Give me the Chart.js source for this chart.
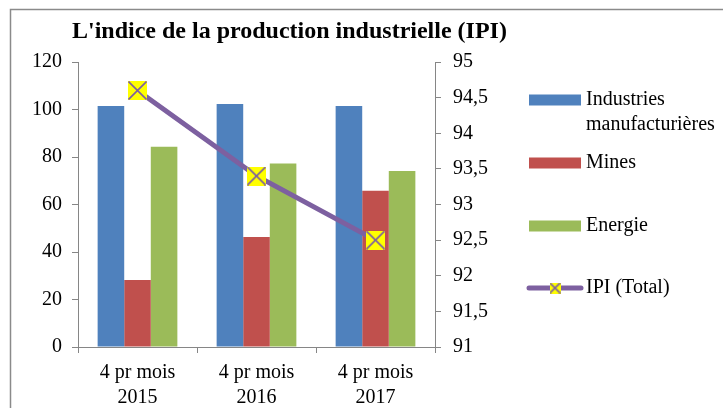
<!DOCTYPE html>
<html>
<head>
<meta charset="utf-8">
<script src="https://cdn.jsdelivr.net/npm/chart.js@4"></script>
<style>
html,body{margin:0;padding:0;background:#fff;}
canvas{display:block;}
</style>
</head>
<body>
<canvas id="c" width="723" height="408"></canvas>
<script>
const categories = [['4 pr mois', '2015'], ['4 pr mois', '2016'], ['4 pr mois', '2017']];
const industries = [101.5, 102.3, 101.5];
const mines = [28.2, 46.3, 65.8];
const energie = [84.3, 77.3, 74.1];
const ipi = [94.6, 93.4, 92.5];
const leftTicks = [0, 20, 40, 60, 80, 100, 120];
const rightTicks = [91, 91.5, 92, 92.5, 93, 93.5, 94, 94.5, 95];
const titleText = "L'indice de la production industrielle (IPI)";

const FONT = '"Liberation Serif", "Times New Roman", serif';
const AXIS = '#868686';
const PURPLE = '#7D60A0';

function makeMarker(size) {
  const cv = document.createElement('canvas');
  cv.width = size; cv.height = size;
  const g = cv.getContext('2d');
  g.fillStyle = '#FFFF00';
  g.fillRect(0, 0, size, size);
  g.strokeStyle = PURPLE;
  g.lineWidth = 1.6;
  g.beginPath();
  g.moveTo(0.5, 0.5); g.lineTo(size - 0.5, size - 0.5);
  g.moveTo(size - 0.5, 0.5); g.lineTo(0.5, size - 0.5);
  g.stroke();
  return cv;
}
const marker = makeMarker(19);
const legendMarker = makeMarker(11);

const framePlugin = {
  id: 'frame',
  beforeDraw(chart) {
    const ctx = chart.ctx;
    ctx.save();
    ctx.fillStyle = '#fff';
    ctx.fillRect(0, 0, chart.width, chart.height);
    ctx.strokeStyle = '#8a8a8a';
    ctx.lineWidth = 1.5;
    ctx.strokeRect(10.5, 9.5, 900, 600);
    ctx.restore();
  },
  afterDraw(chart) {
    const ctx = chart.ctx;
    ctx.save();
    ctx.fillStyle = '#000';
    ctx.font = 'bold 24px ' + FONT;
    ctx.textBaseline = 'alphabetic';
    ctx.textAlign = 'left';
    ctx.fillText(titleText, 72, 38);
    ctx.font = '20px ' + FONT;
    ctx.textBaseline = 'middle';
    const x0 = 529, sw = 52, tx = 586, maxW = 140;
    const ys = [100, 163, 226, 288];
    chart.data.datasets.forEach((ds, i) => {
      const y = ys[i];
      if (ds.type === 'line') {
        ctx.strokeStyle = ds.borderColor;
        ctx.lineWidth = 5;
        ctx.lineCap = 'round';
        ctx.beginPath();
        ctx.moveTo(x0, y); ctx.lineTo(x0 + sw, y);
        ctx.stroke();
        ctx.drawImage(legendMarker, x0 + sw / 2 - 5.5, y - 5.5);
      } else {
        ctx.fillStyle = ds.backgroundColor;
        ctx.fillRect(x0, y - 5.5, sw, 11);
      }
      const words = ds.label.split(' ');
      const lines = [];
      let cur = '';
      words.forEach(w => {
        const t = cur ? cur + ' ' + w : w;
        if (cur && ctx.measureText(t).width > maxW) { lines.push(cur); cur = w; }
        else cur = t;
      });
      if (cur) lines.push(cur);
      ctx.fillStyle = '#000';
      lines.forEach((l, k) => ctx.fillText(l, tx, y + k * 25));
    });
    ctx.restore();
  }
};

new Chart(document.getElementById('c'), {
  type: 'bar',
  data: {
    labels: categories,
    datasets: [
      { label: 'Industries manufacturières', data: industries, backgroundColor: '#4F81BD', yAxisID: 'y', order: 1 },
      { label: 'Mines', data: mines, backgroundColor: '#C0504D', yAxisID: 'y', order: 1 },
      { label: 'Energie', data: energie, backgroundColor: '#9BBB59', yAxisID: 'y', order: 1 },
      { label: 'IPI (Total)', type: 'line', data: ipi, borderColor: PURPLE, backgroundColor: PURPLE,
        borderWidth: 5, pointStyle: marker, yAxisID: 'y1', order: 0, tension: 0 }
    ]
  },
  options: {
    responsive: false,
    animation: false,
    devicePixelRatio: 1,
    datasets: { bar: { categoryPercentage: 0.67, barPercentage: 1.0 } },
    layout: { padding: { top: 62, left: 0, right: 0, bottom: 0 } },
    plugins: { legend: { display: false }, title: { display: false }, tooltip: { enabled: false } },
    scales: {
      x: {
        offset: true,
        grid: { offset: true, drawOnChartArea: false, drawTicks: true, tickLength: 6, color: AXIS },
        border: { display: true, color: AXIS, width: 1 },
        ticks: { color: '#000', font: { family: FONT, size: 20, lineHeight: 1.25 }, padding: 7, maxRotation: 0 },
        afterFit(s) { s.height = 61; }
      },
      y: {
        position: 'left',
        min: 0, max: 120,
        afterBuildTicks(s) { s.ticks = leftTicks.map(v => ({ value: v })); },
        grid: { drawOnChartArea: false, drawTicks: true, tickLength: 6, color: AXIS },
        border: { display: true, color: AXIS, width: 1 },
        ticks: { color: '#000', font: { family: FONT, size: 20 }, padding: 10 },
        afterFit(s) { s.width = 78; }
      },
      y1: {
        position: 'right',
        min: 91, max: 95,
        afterBuildTicks(s) { s.ticks = rightTicks.map(v => ({ value: v })); },
        grid: { drawOnChartArea: false, drawTicks: true, tickLength: 6, color: AXIS },
        border: { display: true, color: AXIS, width: 1 },
        ticks: { color: '#000', font: { family: FONT, size: 20 }, padding: 12,
          callback: v => String(v).replace('.', ',') },
        afterFit(s) { s.width = 288; }
      }
    }
  },
  plugins: [framePlugin]
});
</script>
</body>
</html>
